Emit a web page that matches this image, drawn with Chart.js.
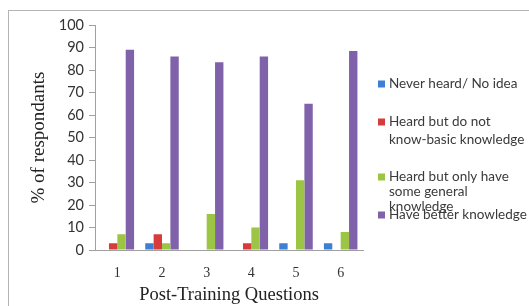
<!DOCTYPE html>
<html>
<head>
<meta charset="utf-8">
<script src="https://cdn.jsdelivr.net/npm/chart.js@4"></script>
<style>
   html, body { margin: 0; padding: 0; background: #ffffff; }
   #wrap { position: relative; width: 529px; height: 306px; overflow: hidden; }
   #frame { position: absolute; left: 8px; top: 10px; width: 560px; height: 320px; border: 1px solid #b4b4b4; box-sizing: border-box; pointer-events: none; }
</style>
</head>
<body>
<div id="wrap">
   <canvas id="chart" width="529" height="306"></canvas>
   <div id="frame"></div>
</div>
<script>
// chart data
const questions = ['1', '2', '3', '4', '5', '6'];
const seriesNames = [
   'Never heard/ No idea',
   'Heard but do not\nknow-basic knowledge',
   'Heard but only have\nsome general\nknowledge',
   'Have better knowledge'
];
const neverHeard   = [0, 3, 0, 0, 3, 3];
const heardNoBasic = [3, 7, 0, 3, 0, 0];
const heardGeneral = [7, 3, 16, 10, 31, 8];
const betterKnow   = [89, 86, 83.5, 86, 65, 88.5];
const yTicks = [0, 10, 20, 30, 40, 50, 60, 70, 80, 90, 100];

const seriesColors = ['#3d7fd2', '#d63c3c', '#9cc545', '#8062ab'];

// legend drawn by hand so labels can wrap like the original
const sideLegend = {
   id: 'sidelegend',
   afterDraw: (chart, args, opts) => {
      const ctx = chart.ctx;
      ctx.save();
      ctx.font = opts.font;
      ctx.textBaseline = 'middle';
      chart.data.datasets.forEach((ds, i) => {
         const y = opts.rows[i];
         ctx.fillStyle = ds.backgroundColor;
         ctx.fillRect(opts.x, y - 3.5, 7, 7);
         ctx.fillStyle = '#3a3a3a';
         ds.label.split('\n').forEach((line, j) => {
            ctx.fillText(line, opts.x + 11, y + j * opts.lineHeight[i]);
         });
      });
      ctx.restore();
   }
};

Chart.defaults.color = '#333333';
Chart.defaults.font = { family: "Lato, 'Open Sans', sans-serif", size: 14 };

new Chart(document.getElementById('chart'), {
   type: 'bar',
   data: {
      labels: questions,
      datasets: [
         { label: seriesNames[0], data: neverHeard,   backgroundColor: seriesColors[0] },
         { label: seriesNames[1], data: heardNoBasic, backgroundColor: seriesColors[1] },
         { label: seriesNames[2], data: heardGeneral, backgroundColor: seriesColors[2] },
         { label: seriesNames[3], data: betterKnow,   backgroundColor: seriesColors[3] }
      ]
   },
   plugins: [sideLegend],
   options: {
      responsive: false,
      animation: false,
      events: [],
      barPercentage: 1,
      categoryPercentage: 0.75,
      layout: { padding: { left: 0, right: 166, top: 25, bottom: 0 } },
      plugins: {
         legend: { display: false },
         tooltip: { enabled: false },
         sidelegend: {
            x: 378,
            rows: [84, 122, 177, 215],
            lineHeight: [17, 18, 15, 15],
            font: "13.5px Lato, 'Open Sans', sans-serif"
         }
      },
      scales: {
         y: {
            min: 0,
            max: 100,
            afterBuildTicks: (scale) => { scale.ticks = yTicks.map(v => ({ value: v })); },
            afterFit: (scale) => { scale.width = 95; },
            border: { display: true, color: '#a0a0a0', width: 1 },
            grid: { drawOnChartArea: false, drawTicks: true, tickLength: 6, color: '#a0a0a0' },
            ticks: { padding: 5, color: '#333333', font: { size: 14.5 } },
            title: {
               display: true,
               text: '% of respondants',
               color: '#222222',
               font: { family: "'Liberation Serif', 'DejaVu Serif', serif", size: 19 },
               padding: { top: 28, bottom: 0 }
            }
         },
         x: {
            afterFit: (scale) => { scale.height = 56; },
            border: { display: true, color: '#a0a0a0', width: 1 },
            grid: { display: false, drawTicks: false },
            ticks: { padding: 15, color: '#333333', font: { family: "'Liberation Serif', serif", size: 14 } },
            title: {
               display: true,
               text: 'Post-Training Questions',
               color: '#222222',
               font: { family: "'Liberation Serif', 'DejaVu Serif', serif", size: 18.5 },
               padding: { top: 0, bottom: 0 }
            }
         }
      }
   }
});
</script>
</body>
</html>
